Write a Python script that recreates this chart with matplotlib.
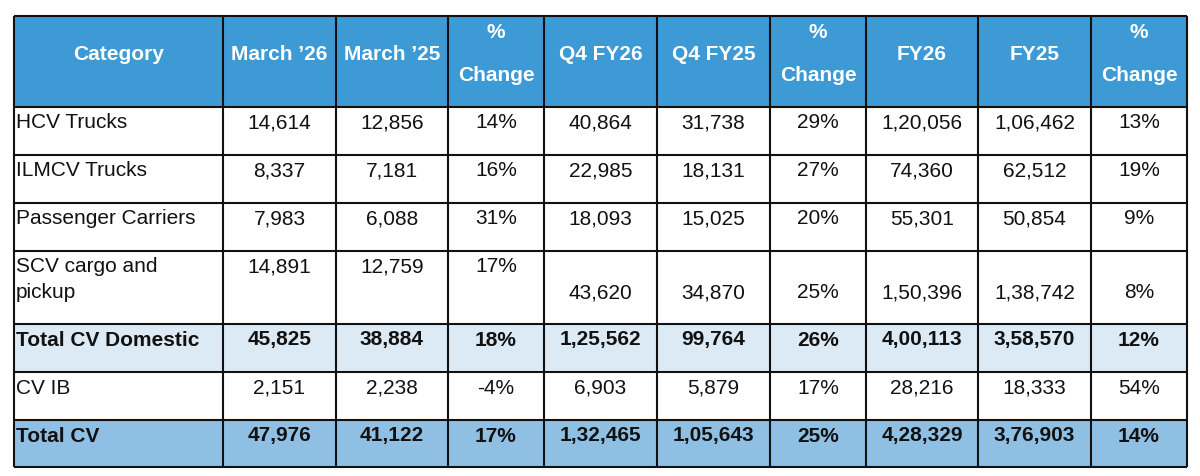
import matplotlib.pyplot as plt
from matplotlib.patches import Rectangle

plt.rcParams['font.family'] = ['Liberation Sans', 'DejaVu Sans']

# table data
headers = ['Category', 'March \u201926', 'March \u201925', '%\nChange', 'Q4 FY26', 'Q4 FY25',
           '%\nChange', 'FY26', 'FY25', '%\nChange']
categories = ['HCV Trucks', 'ILMCV Trucks', 'Passenger Carriers', 'SCV cargo and\npickup',
              'Total CV Domestic', 'CV IB', 'Total CV']
march_26 = [14614, 8337, 7983, 14891, 45825, 2151, 47976]
march_25 = [12856, 7181, 6088, 12759, 38884, 2238, 41122]
march_chg = [14, 16, 31, 17, 18, -4, 17]
q4_fy26 = [40864, 22985, 18093, 43620, 125562, 6903, 132465]
q4_fy25 = [31738, 18131, 15025, 34870, 99764, 5879, 105643]
q4_chg = [29, 27, 20, 25, 26, 17, 25]
fy26 = [120056, 74360, 55301, 150396, 400113, 28216, 428329]
fy25 = [106462, 62512, 50854, 138742, 358570, 18333, 376903]
fy_chg = [13, 19, 9, 8, 12, 54, 14]


def indian(n):
    # 1,20,056 style grouping
    s = str(abs(n))
    if len(s) > 3:
        head, tail = s[:-3], s[-3:]
        groups = []
        while len(head) > 2:
            groups.insert(0, head[-2:])
            head = head[:-2]
        if head:
            groups.insert(0, head)
        s = ','.join(groups) + ',' + tail
    return ('-' if n < 0 else '') + s


def pct(n):
    return f'{n}%'


columns = [march_26, march_25, march_chg, q4_fy26, q4_fy25, q4_chg, fy26, fy25, fy_chg]
formats = [indian, indian, pct, indian, indian, pct, indian, indian, pct]

# layout (pixels)
col_x = [14, 223, 336, 448, 544, 657, 770, 866, 978, 1091, 1187]
row_y = [16, 107, 155, 203, 251, 324, 372, 420, 467]
header_color = '#3d9ad5'
row_colors = ['white', 'white', 'white', 'white', '#dceaf6', 'white', '#8fc0e4']
bold_rows = {4, 6}
fs = 15

fig = plt.figure(figsize=(12, 4.76), dpi=100)
ax = fig.add_axes([0, 0, 1, 1])
ax.set_xlim(0, 1200)
ax.set_ylim(476, 0)
ax.axis('off')

# header
ax.add_patch(Rectangle((col_x[0], row_y[0]), col_x[-1] - col_x[0], row_y[1] - row_y[0],
                       facecolor=header_color, edgecolor='none'))
for j, h in enumerate(headers):
    cx = (col_x[j] + col_x[j + 1]) / 2
    if '\n' in h:
        top, bottom = h.split('\n')
        ax.text(cx, 38, top, ha='center', va='baseline', color='white',
                fontsize=fs, fontweight='bold')
        ax.text(cx, 81, bottom, ha='center', va='baseline', color='white',
                fontsize=fs, fontweight='bold')
    else:
        ax.text(cx, 60, h, ha='center', va='baseline', color='white',
                fontsize=fs, fontweight='bold')

# body
for i, cat in enumerate(categories):
    y0, y1 = row_y[i + 1], row_y[i + 2]
    ax.add_patch(Rectangle((col_x[0], y0), col_x[-1] - col_x[0], y1 - y0,
                           facecolor=row_colors[i], edgecolor='none'))
    weight = 'bold' if i in bold_rows else 'normal'
    lines = cat.split('\n')
    for k, line in enumerate(lines):
        ax.text(col_x[0] + 2, y0 + 21.5 + 26 * k, line, ha='left', va='baseline',
                fontsize=fs, fontweight=weight, color='#111111')
    for j, (vals, fmt) in enumerate(zip(columns, formats)):
        cx = (col_x[j + 1] + col_x[j + 2]) / 2
        # in the two-line row the quarter and year figures sit on the second line
        dy = 26 if (len(lines) > 1 and j >= 3) else 0
        ax.text(cx, y0 + 21.5 + dy, fmt(vals[i]), ha='center', va='baseline',
                fontsize=fs, fontweight=weight, color='#111111')

# grid lines
ax.hlines(row_y, col_x[0], col_x[-1], colors='#111111', linewidth=1.5)
ax.vlines(col_x, row_y[0], row_y[-1], colors='#111111', linewidth=1.5)

fig.savefig('out.png', dpi=100)
